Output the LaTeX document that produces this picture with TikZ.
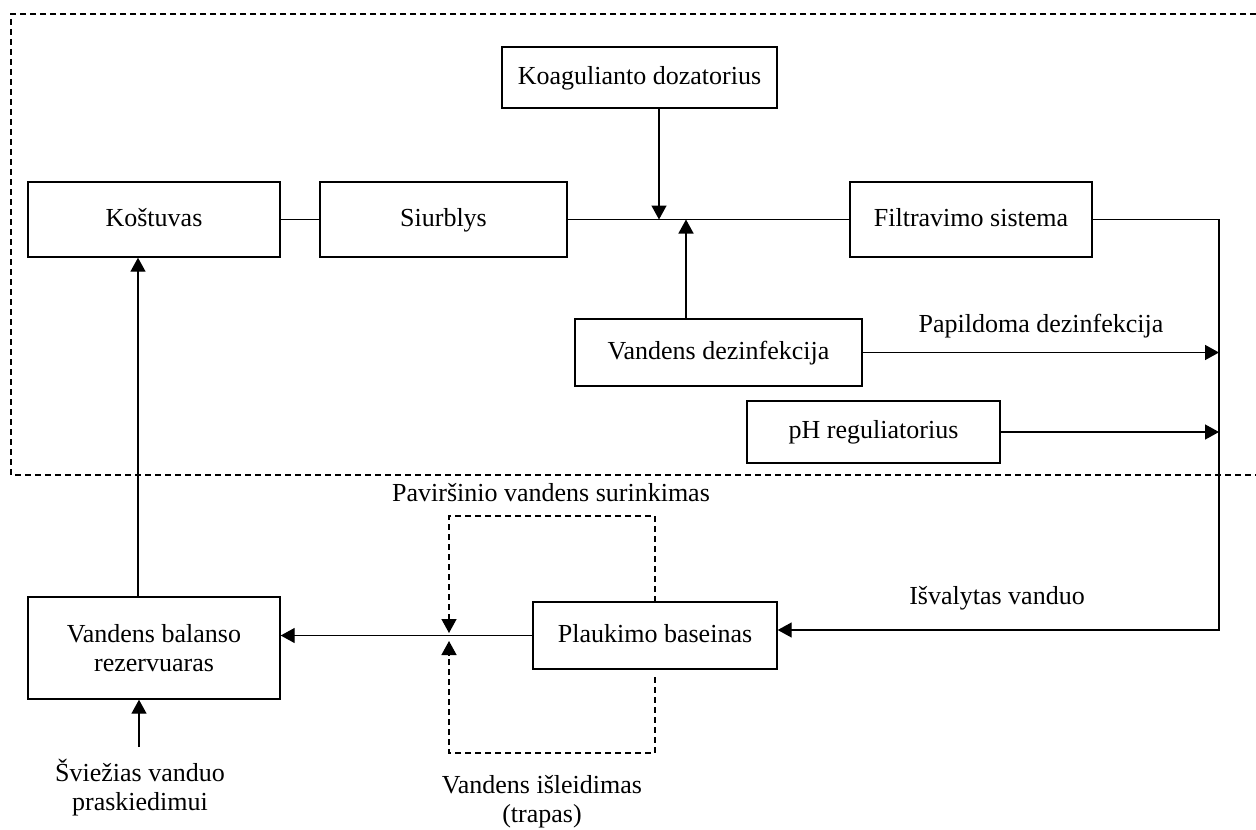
\documentclass[tikz,border=0pt]{standalone}
\usepackage{fontspec}
\setmainfont{Liberation Serif}
\usetikzlibrary{arrows.meta}
\tikzset{
  box/.style={draw, line width=0.7pt, inner sep=0pt, align=center, fill=white},
  oneline/.style={text height=9.5pt, text depth=3pt},
  lbl/.style={inner sep=0pt, align=center},
  wire/.style={line width=0.7pt},
  arr/.style={wire, -{Triangle[length=7pt,width=7.5pt]}},
  dsh/.style={line width=0.7pt, dash pattern=on 3pt off 2pt},
}
\begin{document}
\begin{tikzpicture}[x=0.5pt, y=-0.5pt, font=\fontsize{13}{14.5}\selectfont]
\useasboundingbox (0,0) rectangle (1256,829);

% treatment zone (open on the right)
\draw[dsh] (1256,14) -- (11,14) -- (11,475) -- (1256,475);

% boxes
\node[box, oneline, minimum width=137.5pt, minimum height=30.5pt] (koag) at (639.5,77.5) {Koagulianto dozatorius};
\node[box, oneline, minimum width=126pt, minimum height=37.5pt] (kost) at (154,219.5) {Koštuvas};
\node[box, oneline, minimum width=123.5pt, minimum height=37.5pt] (siur) at (443.5,219.5) {Siurblys};
\node[box, oneline, minimum width=121pt, minimum height=37.5pt] (filt) at (971,219.5) {Filtravimo sistema};
\node[box, oneline, minimum width=143.5pt, minimum height=33.5pt] (dez) at (718.5,352.5) {Vandens dezinfekcija};
\node[box, oneline, minimum width=126.5pt, minimum height=31pt] (ph) at (873.5,432) {pH reguliatorius};
\node[box, minimum width=126pt, minimum height=51pt] (bal) at (154,648) {Vandens balanso\\rezervuaras};

% helper points
\coordinate (jdown) at (659,219.5);
\coordinate (jup) at (686,219.5);
\coordinate (rtop) at (1219,219.5);
\coordinate (rbot) at (1219,630);
\coordinate (colx) at (138,400);
\coordinate (dtl) at (449,516);
\coordinate (dtr) at (655,516);
\coordinate (dbl) at (449,753);
\coordinate (dbr) at (655,753);
\coordinate (dbrs) at (655,677);
\coordinate (jbt) at (449,633);
\coordinate (jbb) at (449,641);
\coordinate (fresh) at (139,747);

% collection / drain outline around the pool outlet
\draw[dsh, -{Triangle[length=7pt,width=7.5pt]}] (655,602) -- (dtr) -- (dtl) -- (jbt);
\draw[dsh, -{Triangle[length=7pt,width=7.5pt]}] (dbrs) -- (dbr) -- (dbl) -- (jbb);

\node[box, oneline, minimum width=122pt, minimum height=33.5pt] (plauk) at (655,635.5) {Plaukimo baseinas};

% main treatment line
\draw[wire] (kost) -- (siur);
\draw[wire] (siur) -- (filt);
\draw[arr] (koag.south -| jdown) -- (jdown);
\draw[arr] (dez.north -| jup) -- (jup);

% return to the pool
\draw[arr] (filt.east) -- (rtop) -- (rbot) -- (plauk.east |- rbot);
\draw[arr] (dez.east) -- (dez.east -| rtop);
\draw[arr] (ph.east) -- (ph.east -| rtop);

% pool to balance tank, tank to strainer
\draw[arr] (plauk.west) -- (bal.east |- plauk.west);
\draw[arr] (bal.north -| colx) -- (kost.south -| colx);
\draw[arr] (fresh) -- (bal.south -| fresh);

% labels
\node[lbl] (lpap) at (1041,326) {Papildoma dezinfekcija};
\node[lbl] (lisv) at (997,598) {Išvalytas vanduo};
\node[lbl] (lpav) at (551,493) {Paviršinio vandens surinkimas};
\node[lbl] (lisl) at (542,802) {Vandens išleidimas\\(trapas)};
\node[lbl] (lsvz) at (140,788) {Šviežias vanduo\\praskiedimui};
\end{tikzpicture}
\end{document}
